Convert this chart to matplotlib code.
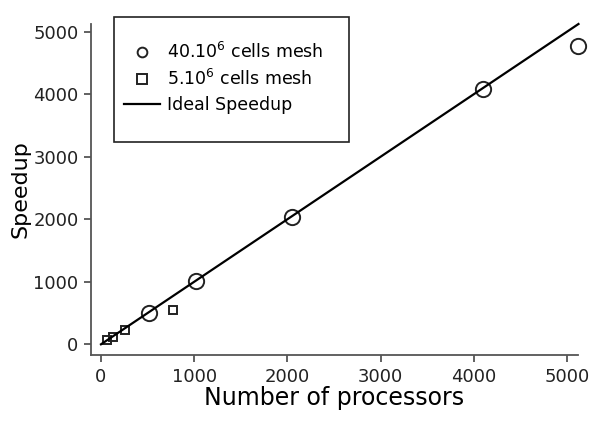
import matplotlib.pyplot as plt
from matplotlib.patches import Rectangle

procs_40m = [512, 1024, 2048, 4096, 5120]
speedup_40m = [500, 1010, 2040, 4080, 4770]
procs_5m = [64, 128, 256, 768]
speedup_5m = [65, 110, 225, 555]
ideal_procs = [0, 5120]

plt.rcParams['font.family'] = 'DejaVu Sans'

fig = plt.figure(figsize=(5.96, 4.23), dpi=100)
ax = fig.add_axes([91 / 596, 1 - 355 / 423, 487 / 596, 331 / 423])

ax.plot(procs_40m, speedup_40m, 'o', ms=11, mfc='none', mec='#222222', mew=1.4,
        clip_on=False, label='40.10$^6$ cells mesh')
ax.plot(procs_5m, speedup_5m, 's', ms=5.5, mfc='none', mec='#222222', mew=1.4,
        label='5.10$^6$ cells mesh')
ax.plot(ideal_procs, ideal_procs, '-', color='black', lw=1.6, clip_on=False,
        label='Ideal Speedup')

ax.set_xlim(-107, 5115)
ax.set_ylim(-171, 5120)
ax.set_xticks([0, 1000, 2000, 3000, 4000, 5000])
ax.set_yticks([0, 1000, 2000, 3000, 4000, 5000])
for s in ['top', 'right']:
    ax.spines[s].set_visible(False)
for s in ['left', 'bottom']:
    ax.spines[s].set_color('#555555')
    ax.spines[s].set_linewidth(1.3)
ax.tick_params(direction='out', length=5, width=1.3, color='#555555',
               labelsize=13, labelcolor='#222222', pad=4)
ax.set_xlabel('Number of processors', fontsize=17, labelpad=0)
ax.set_ylabel('Speedup', fontsize=16, labelpad=2)

# legend box drawn separately so the padding can follow the original
fig.patches.append(Rectangle((114 / 596, 1 - 142 / 423), 235 / 596, 125 / 423,
                             transform=fig.transFigure, fill=False,
                             edgecolor='#222222', linewidth=1.2))
leg = ax.legend(loc='upper left', bbox_to_anchor=(124 / 596, 1 - 42 / 423),
                bbox_transform=fig.transFigure, fontsize=12.5, frameon=False,
                borderaxespad=0, borderpad=0, handlelength=2.1,
                labelspacing=0.4, handletextpad=0.4)
leg.legend_handles[0].set_markersize(7)
leg.legend_handles[1].set_markersize(7)

fig.savefig('out.png', dpi=100)
